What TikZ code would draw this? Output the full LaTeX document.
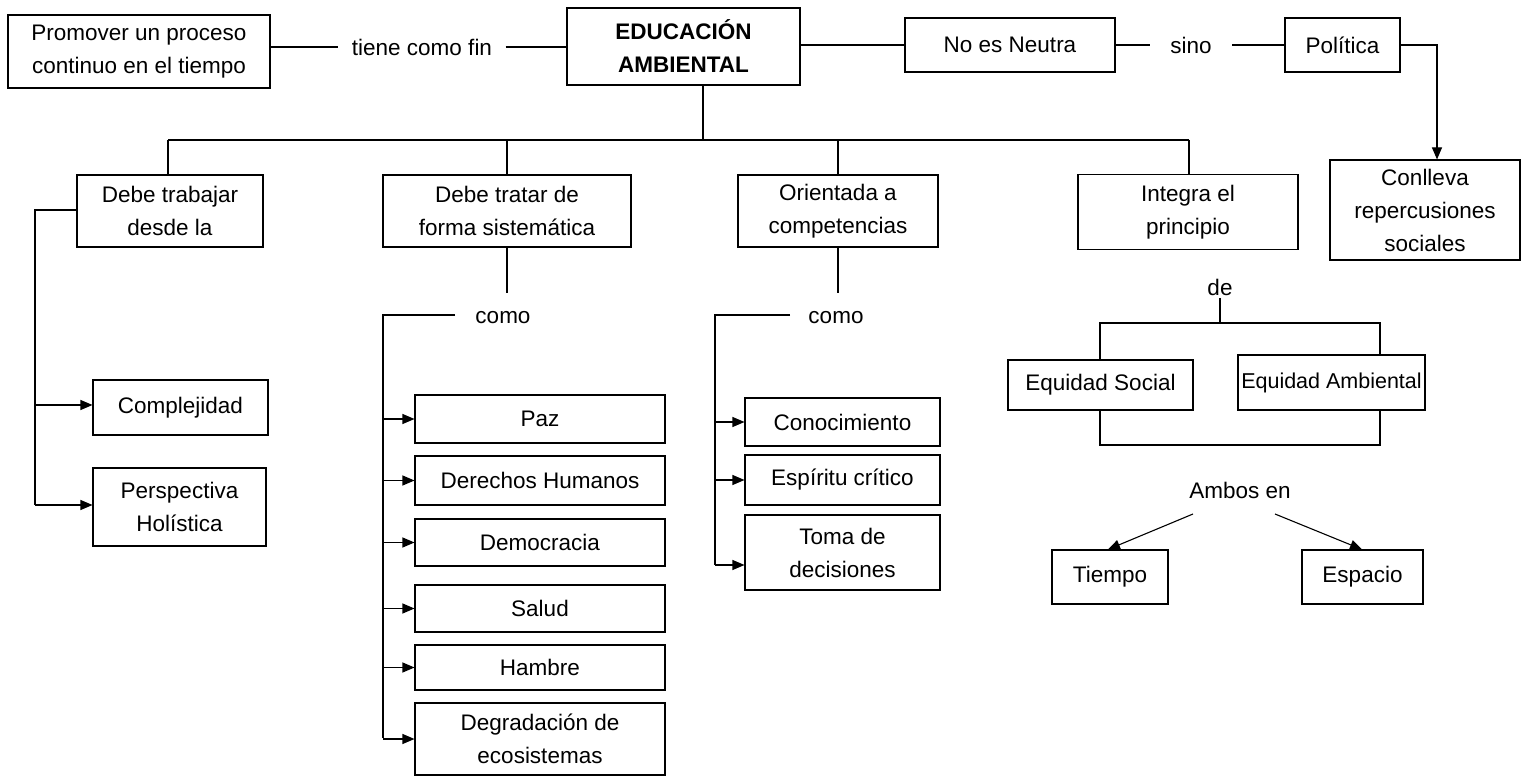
\documentclass[tikz,border=0pt]{standalone}
\usepackage{fontspec}
\setmainfont{Liberation Sans}
\usetikzlibrary{arrows.meta}
\begin{document}
\begin{tikzpicture}[x=1pt,y=-1pt,line width=1.1pt,
  font=\fontsize{22.5}{33}\selectfont,
  box/.style={draw,align=center,inner sep=0pt},
  lbl/.style={inner sep=2pt},
  gap/.style={inner xsep=13pt,inner ysep=2pt},
  arr/.style={-{Triangle[length=12pt,width=10pt]}}]
\useasboundingbox (0,0) rectangle (1535,783);
\newcommand\bx[6]{\node[box,minimum width=#3,minimum height=#4] (#5) at (#1,#2) {#6};}
\bx{139}{51.5}{262}{73}{prom}{Promover un proceso\\continuo en el tiempo}
\node[gap] (fin) at (422,47) {tiene como fin};
\bx{683.5}{46.5}{233}{77}{ea}{\textbf{EDUCACIÓN}\\\textbf{AMBIENTAL}}
\bx{1010}{45}{210}{54}{neu}{No es Neutra}
\node[gap,inner xsep=20pt] (sino) at (1191,45) {sino};
\bx{1342.5}{45}{115}{54}{pol}{Política}
\bx{1425}{210}{190}{100}{con}{Conlleva\\repercusiones\\sociales}
\draw (prom.east|-fin) -- (fin.west);
\draw (fin.east) -- (ea.west|-fin);
\draw (ea.east|-neu) -- (neu) ;
\draw (neu.east) -- (sino.west);
\draw (sino.east) -- (pol.west);
\draw[arr] (pol.east) -| (con.north-|1437,0);
% level 1
\bx{170}{211}{186}{72}{b1}{Debe trabajar\\desde la}
\bx{507}{211}{248}{72}{b2}{Debe tratar de\\forma sistemática}
\bx{838}{211}{200}{72}{b3}{Orientada a\\competencias}
\bx{1188}{212}{220}{75}{b4}{Integra el\\principio}
\coordinate (h) at (703,140);
\draw (ea.south-|h) -- (h);
\draw (168,140) -- (1189,140);
\foreach \n/\x in {b1/168,b2/507,b3/838,b4/1189}{\draw (\x,140) -- (\n.north-|\x,0);}
% b1 children
\bx{180.5}{407.5}{175}{55}{c1}{Complejidad}
\bx{179.5}{507}{173}{78}{c2}{Perspectiva\\Holística}
\coordinate (l1) at (35,210);
\draw (b1.west|-l1) -- (l1) -- (35,505);
\draw[arr] (35,405) -- (c1.west|-0,405);
\draw[arr] (35,505) -- (c2.west|-0,505);
% b2 children
\node[lbl] (como1) at (503,318) {como};
\draw (b2.south-|507,0) -- (507,293);
\draw (455,315) -- (383,315) -- (383,738);
\foreach \n/\yc/\h/\t in {p1/419/48/Paz,p2/480.5/49/Derechos Humanos,p3/542.5/47/Democracia,p4/608.5/47/Salud,p5/667.5/45/Hambre}{
  \bx{540}{\yc}{250}{\h}{\n}{\t}
  \draw[arr] (383,\yc) -- (\n.west);}
\bx{540}{739}{250}{72}{p6}{Degradación de\\ecosistemas}
\draw[arr] (383,739) -- (p6.west);
% b3 children
\node[lbl] (como2) at (836,318) {como};
\draw (b3.south-|838,0) -- (838,293);
\draw (790,315) -- (715,315) -- (715,565);
\bx{842.5}{422}{195}{48}{q1}{Conocimiento}
\bx{842.5}{480}{195}{50}{q2}{Espíritu crítico}
\bx{842.5}{552.5}{195}{75}{q3}{Toma de\\decisiones}
\draw[arr] (715,422) -- (q1.west);
\draw[arr] (715,480) -- (q2.west);
\draw[arr] (715,565) -- (q3.west|-0,565);
% b4 children
\node[lbl] (de) at (1220,287) {de};
\bx{1100.5}{385}{185}{50}{es}{Equidad Social}
\bx{1331.5}{382.5}{187}{55}{eam}{{\fontsize{21.5}{30}\selectfont Equidad Ambiental}}
\draw (de.south-|1220,0) -- (1220,323);
\draw (es.north-|1100,0) -- (1100,323) -- (1380,323) -- (eam.north-|1380,0);
\node[lbl] (amb) at (1240,490) {Ambos en};
\draw (es.south-|1100,0) -- (1100,445) -- (1380,445) -- (eam.south-|1380,0);
\bx{1110}{577}{116}{54}{ti}{Tiempo}
\bx{1362.5}{577}{121}{54}{sp}{Espacio}
\draw[arr] (1193,514) -- (ti.north-|1108,0);
\draw[arr] (1275,514) -- (sp.north-|1362,0);
\end{tikzpicture}
\end{document}
